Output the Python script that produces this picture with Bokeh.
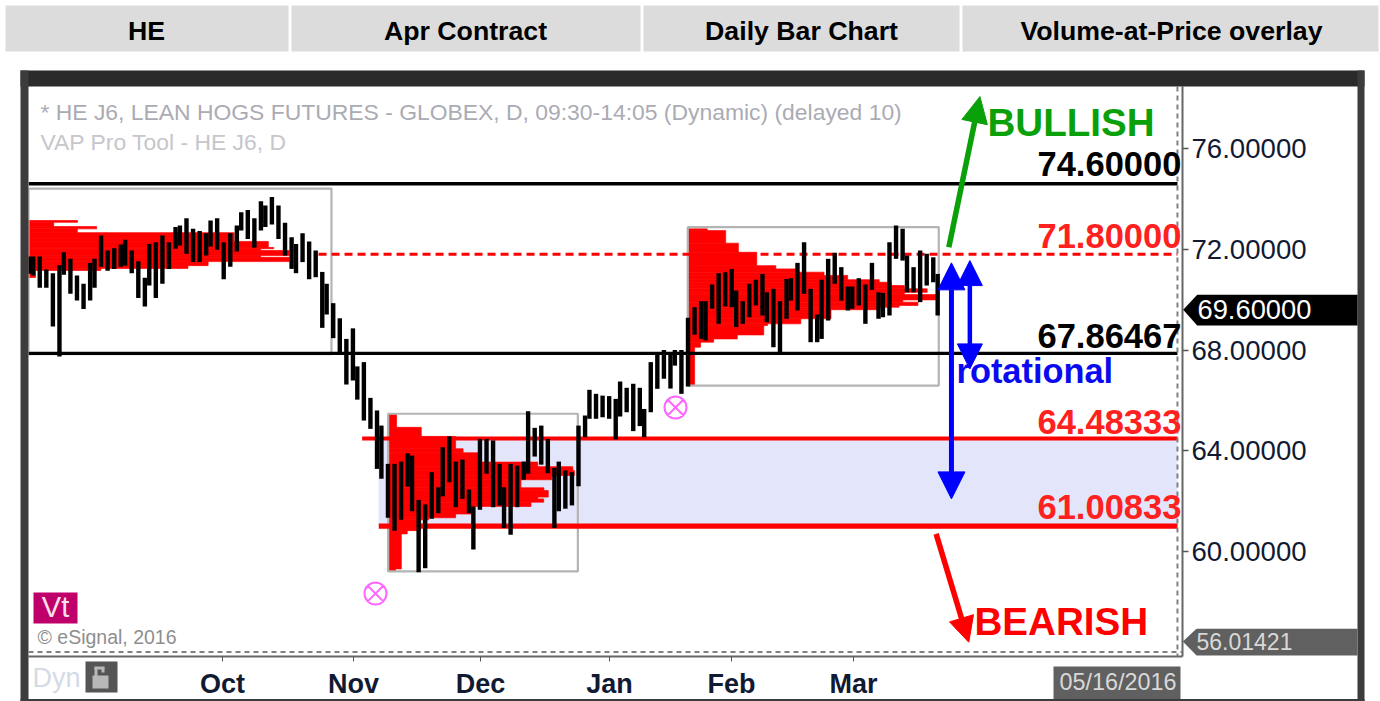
from bokeh.plotting import figure
from bokeh.embed import file_html
from bokeh.resources import INLINE
from bokeh.layouts import column
from bokeh.core.properties import value
from bokeh.models import (Range1d, FixedTicker, NumeralTickFormatter, Span, Arrow, NormalHead)
import numpy as np

# ---- data ----
highs = [71.71, 71.71, 71.71, 71.20, 71.05, 71.36, 71.88, 71.62, 70.96, 70.63,
         71.45, 71.62, 72.55, 71.95, 72.04, 72.19, 72.38, 71.95, 71.52, 70.87,
         72.21, 72.28, 72.55, 72.28, 72.88, 72.94, 73.23, 72.81, 72.72, 72.64,
         73.14, 73.23, 72.28, 72.64, 72.94, 73.47, 73.56, 73.23, 73.91, 73.74,
         74.07, 73.74, 73.05, 72.48, 72.21, 72.64, 72.31, 71.95, 71.10, 70.63,
         69.86, 69.26, 68.44, 68.86, 67.35, 67.52, 66.10, 65.60, 65.00,
         63.48, 63.48, 63.57, 63.90, 63.81, 62.05, 61.87, 63.15, 62.55, 64.14,
         64.57, 63.57, 63.65, 62.46, 61.79, 64.47, 64.47, 64.41, 63.48, 62.55,
         63.48, 63.41, 63.57, 65.57, 64.91, 65.00, 64.47, 63.32, 63.57, 63.22,
         63.15, 65.00, 65.40,
         66.42, 66.26, 66.19, 66.17, 66.06, 66.75, 66.50, 66.66, 66.50, 65.66,
         67.52, 67.85, 68.00, 67.86, 68.00, 68.00,
         69.28, 69.70, 69.94, 69.94, 70.60, 71.05, 71.09, 71.22, 70.36, 69.94,
         70.63, 70.79, 71.02, 70.29, 70.43, 69.94, 70.82, 70.85, 71.46, 72.28,
         70.43, 69.41, 70.79, 71.62, 71.86, 71.29, 70.52, 70.52, 70.85, 70.60,
         71.46, 70.29, 70.27, 72.28, 72.94, 72.81, 71.75, 71.29, 71.95, 71.82,
         71.68, 71.02]
lows = [71.03, 70.96, 70.47, 70.47, 68.93, 67.74, 70.99, 70.23, 69.97, 69.63,
        69.97, 70.47, 71.31, 71.15, 71.22, 71.31, 71.35, 71.05, 70.06, 69.73,
        70.56, 70.06, 70.63, 71.22, 72.02, 72.15, 71.82, 71.49, 71.49, 71.75,
        72.11, 71.98, 70.81, 71.31, 71.91, 72.74, 72.41, 72.06, 72.74, 72.88,
        72.98, 72.41, 71.75, 71.22, 71.05, 71.49, 70.81, 70.89, 68.88, 69.41,
        68.47, 67.85, 66.63, 66.79, 66.03, 65.20, 64.87, 63.28, 62.89,
        61.34, 60.83, 61.26, 62.58, 61.60, 59.18, 59.34, 61.30, 61.52, 62.19,
        62.75, 61.76, 62.09, 61.52, 60.08, 61.66, 63.09, 61.76, 61.83, 60.93,
        60.67, 61.76, 62.85, 63.09, 63.77, 63.45, 63.11, 60.93, 61.60, 61.70,
        61.83, 62.59, 64.54,
        65.27, 65.27, 65.33, 65.27, 64.45, 65.36, 65.53, 64.78, 64.98, 64.54,
        65.53, 66.46, 66.86, 66.47, 67.38, 66.26,
        66.55, 68.61, 68.44, 68.38, 69.64, 69.04, 69.73, 69.70, 68.91, 69.04,
        69.30, 69.77, 69.37, 69.10, 68.11, 67.91, 69.24, 69.96, 69.57, 70.23,
        68.31, 68.31, 68.44, 69.17, 70.63, 69.96, 69.57, 69.64, 69.77, 69.04,
        70.39, 69.24, 69.30, 69.37, 71.62, 71.55, 70.29, 70.29, 69.90, 70.56,
        70.69, 69.37]
# bars whose spacing on the source chart was one pixel narrower (weekly rhythm of the pixel grid)
narrow_gaps = [0, 5, 10, 15, 19, 24, 29, 34, 38, 43, 48, 53, 57, 62, 67, 72, 77, 81, 86, 91, 96,
               100, 105, 110, 115, 120, 124, 129, 134, 139, 143, 148]

vap1_levels = [73.14, 73.07, 72.90, 72.81, 72.66, 72.43, 72.31, 72.07, 72.02, 71.95, 71.75, 71.68,
               71.51, 71.35, 71.24, 71.16, 70.88]
vap1_volume = [22.4, 11.5, 31.1, 22.3, 93.9, 93.9, 109.5, 112, 106, 119, 106, 119, 82, 72.8, 33, 3.2]
vap2_levels = [65.44, 64.93, 64.57, 64.08, 63.92, 63.55, 63.37, 63.22, 63.02, 62.85, 62.53, 62.42,
               62.16, 62.09, 61.96, 61.79, 61.49, 61.34, 61.26, 60.83, 60.70, 59.31, 59.21]
vap2_volume = [3.8, 15.1, 30.8, 34.2, 41, 68.3, 84.3, 85, 74.7, 60.6, 71.1, 73.1, 68.3, 71, 65.2,
               39.1, 30.8, 18.5, 14.8, 8.7, 6, 3.3]
vap3_levels = [72.81, 72.74, 72.24, 71.88, 71.35, 71.22, 71.09, 70.96, 70.79, 70.69, 70.56, 70.43,
               70.29, 70.20, 69.99, 69.90, 69.77, 69.70, 69.60, 69.24, 69.04, 68.97, 68.60, 68.44,
               68.31, 68.11, 66.59]
vap3_volume = [8.9, 17.3, 23.1, 31.5, 40.2, 50.1, 62.2, 73, 87.4, 92.9, 98.9, 109.3, 98.9, 114.2,
               98.2, 105.1, 96.5, 86.8, 65.4, 51.6, 36.4, 34.7, 22.6, 11.8, 5.8, 3.1]
vap_left = [-0.14, 164.1, 300.9]
box_left = [-0.14, 164.1, 300.9]
box_right = [138.2, 250.7, 415.5]
box_top = [74.41, 65.47, 72.875]
box_bottom = [67.84, 59.21, 66.59]

level_black = [74.6, 67.86467]
level_red_dash = 71.8
level_red = [64.48333, 61.00833]
last_price = "69.60000"
low_price = 56.01421
marker_x = [158.3, 295.3]
marker_y = [58.33, 65.72]
month_ticks = [88.4, 148.3, 206.3, 265.2, 320.9, 376.6]
month_labels = ["Oct", "Nov", "Dec", "Jan", "Feb", "Mar"]
price_ticks = [60, 64, 68, 72, 76]
headers = ["HE", "Apr Contract", "Daily Bar Chart", "Volume-at-Price overlay"]

# ---- figure ----
gaps = np.array([2 if i in narrow_gaps else 3 for i in range(len(highs) - 1)])
bar_x = np.concatenate([[0], np.cumsum(gaps)])
X_END = 526.8
Y_LOW, Y_HIGH = 55.833, 78.461

p = figure(width=1380, height=701, frame_width=1154, frame_height=570,
           min_border_left=28, min_border_top=86, min_border_right=0, min_border_bottom=0,
           x_range=Range1d(-0.14, X_END), y_range=Range1d(Y_LOW, Y_HIGH),
           y_axis_location="right", output_backend="svg", toolbar_location=None,
           background_fill_color="white", border_fill_color="white", outline_line_color=None)
p.grid.visible = False
p.frame_align = False

AXC = "#111a33"
ya = p.yaxis[0]
ya.ticker = FixedTicker(ticks=price_ticks)
ya.formatter = NumeralTickFormatter(format="0.00000")
ya.major_label_text_font = "Liberation Sans"
ya.major_label_text_font_size = "27.6px"
ya.major_label_text_color = AXC
ya.major_tick_in = 0
ya.major_tick_out = 6
ya.minor_tick_line_color = None
ya.axis_line_color = "#666666"
ya.axis_line_width = 2
ya.major_tick_line_color = "#555555"
ya.major_tick_line_width = 1.5
ya.major_label_standoff = 3

xa = p.xaxis[0]
xa.ticker = FixedTicker(ticks=month_ticks)
xa.major_label_overrides = dict(zip(month_ticks, month_labels))
xa.major_label_text_font = "Liberation Sans"
xa.major_label_text_font_size = "27px"
xa.major_label_text_font_style = "bold"
xa.major_label_text_color = AXC
xa.major_tick_in = 0
xa.major_tick_out = 5
xa.minor_tick_line_color = None
xa.axis_line_color = "#666666"
xa.axis_line_width = 2
xa.major_tick_line_color = "#555555"
xa.major_label_standoff = 7

# lavender band, profiles, boxes, levels, bars
BAND_L, BAND_R = 159.7, 524.5
p.quad(left=[BAND_L], right=[BAND_R], top=[level_red[0]], bottom=[level_red[1]],
       fill_color="#E3E6FA", line_color=None)
for base, levels, vol in [(vap_left[0], vap1_levels, vap1_volume),
                          (vap_left[1], vap2_levels, vap2_volume),
                          (vap_left[2], vap3_levels, vap3_volume)]:
    p.quad(left=[base] * len(vol), right=[base + v for v in vol], top=levels[:-1], bottom=levels[1:],
           fill_color="#FF0000", line_color="#FF0000", line_width=0.7)
p.quad(left=box_left, right=box_right, top=box_top, bottom=box_bottom, fill_color=None,
       line_color="#B4B4B4", line_width=2.2)
p.segment(x0=[-0.14, -0.14], x1=[BAND_R, BAND_R], y0=level_black, y1=level_black,
          line_color="#000000", line_width=3.4)
p.segment(x0=[132.3], x1=[BAND_R], y0=[level_red_dash], y1=[level_red_dash],
          line_color="#FF0000", line_width=3, line_dash="8 5")
p.segment(x0=[152.2], x1=[BAND_R], y0=[level_red[0]], y1=[level_red[0]], line_color="#FF0000", line_width=4)
p.segment(x0=[159.8], x1=[BAND_R], y0=[level_red[1]], y1=[level_red[1]], line_color="#FF0000", line_width=5.4)
p.segment(x0=bar_x, x1=bar_x, y0=lows, y1=highs, line_color="#000000", line_width=4.4)
p.scatter(x=marker_x, y=marker_y, marker="circle_x", size=22, fill_color=None,
          line_color="#FF66FF", line_width=2)

# dashed limits of the pane
p.add_layout(Span(location=low_price, dimension="width", line_color="#808080", line_width=2, line_dash="5 4"))
p.add_layout(Span(location=BAND_R, dimension="height", line_color="#808080", line_width=2, line_dash="5 4"))

# arrows
def arrow(x0, y0, x1, y1, color, width, size, both=False):
    head = NormalHead(size=size, fill_color=color, line_color=color, line_width=1)
    start = NormalHead(size=size, fill_color=color, line_color=color, line_width=1) if both else None
    p.add_layout(Arrow(x_start=x0, y_start=y0, x_end=x1, y_end=y1, end=head, start=start,
                       line_color=color, line_width=width))

arrow(420.1, 72.08, 434.3, 78.06, "#09A009", 5.5, 26)
arrow(414.3, 60.70, 429.2, 56.40, "#FF0000", 5.5, 25)
arrow(421.3, 62.09, 421.3, 71.46, "#0000FF", 5, 27, both=True)
arrow(429.7, 67.25, 429.7, 71.55, "#0000FF", 4.5, 25, both=True)

# transparent top layer measured in page pixels: header cells, window frame, tags and notes
ov = figure(width=1380, height=701, x_range=Range1d(0, 1380), y_range=Range1d(701, 0),
            min_border=0, x_axis_type=None, y_axis_type=None, output_backend="svg", toolbar_location=None,
            background_fill_alpha=0, border_fill_alpha=0, outline_line_color=None)
ov.grid.visible = False
ov.frame_align = False
ov.styles = {"margin-top": "-701px"}

def box(l, t, r, b, color):
    ov.quad(left=[l], right=[r], top=[t], bottom=[b], fill_color=color, line_color=None)

def poly(xs, ys, color):
    ov.patch(x=xs, y=ys, fill_color=color, line_color=None)

def label(x, y, text, size, color="#000000", style="normal", align="left", font="Liberation Sans"):
    ov.text(x=[x], y=[y - 0.4 * size], text=[text], text_font=value(font), text_font_size=value(f"{size}px"),
            text_color=color, text_font_style=style, text_align=align, text_baseline="alphabetic")

for l, r, t, cx in [(5, 288, headers[0], 146), (291, 640, headers[1], 465),
                    (643, 959, headers[2], 801), (962, 1378, headers[3], 1171)]:
    box(l, 5, r, 51, "#DCDCDC")
    label(cx, 41, t, 26.7, style="bold", align="center")

box(20, 70, 1364, 86, "#2B2B2B")
box(20, 70, 28, 701, "#3C3C3C")
box(1357, 70, 1364, 701, "#3C3C3C")
box(20, 698.5, 1364, 701, "#3C3C3C")

label(40, 121, "* HE J6, LEAN HOGS FUTURES - GLOBEX, D, 09:30-14:05 (Dynamic) (delayed 10)", 22.9, "#ABABB4")
label(40, 151, "VAP Pro Tool - HE J6, D", 22.9, "#C6C6CC")
label(987, 137, "BULLISH", 38.6, "#09A009", "bold")
label(974, 636, "BEARISH", 38.6, "#FF0000", "bold")
label(956, 384, "rotational", 34.4, "#0A0AF0", "bold")
label(1037, 177, "74.60000", 34.5, "#000000", "bold")
label(1037, 249, "71.80000", 34.5, "#FF2020", "bold")
label(1037, 349, "67.86467", 34.5, "#000000", "bold")
label(1037, 435, "64.48333", 34.5, "#FF2020", "bold")
label(1037, 520, "61.00833", 34.5, "#FF2020", "bold")

# Vt badge, copyright, Dyn and lock icon
box(33, 592, 77, 623, "#C0006A")
label(55, 618, "Vt", 29, "#F8E0EC", align="center")
label(37, 644, "\u00a9 eSignal, 2016", 19.5, "#8E8E8E")
label(32, 688, "Dyn", 27, "#D4DAE6")
box(85, 661, 117, 692, "#555555")
box(92, 675, 108, 688, "#B8B8B8")
box(94, 667, 97, 676, "#B8B8B8")
box(94, 666, 104, 669, "#B8B8B8")
box(101, 667, 104, 672, "#B8B8B8")

# price and date tags
poly([1182.7, 1196.7, 1357, 1357, 1196.7], [309.3, 294.3, 294.3, 325, 325], "#000000")
label(1197, 320, last_price, 27.3, "#FFFFFF")
poly([1182.3, 1196, 1357, 1357, 1196], [641, 628.3, 628.3, 655, 655], "#606060")
label(1196, 650, f"{low_price:.5f}", 23, "#D8D8D8")
box(1053, 666, 1180, 698.5, "#606060")
label(1059, 691, "05/16/2016", 23.4, "#D8D8D8")

page = column(p, ov, spacing=0)
open("out.html", "w").write(file_html(page, INLINE))
